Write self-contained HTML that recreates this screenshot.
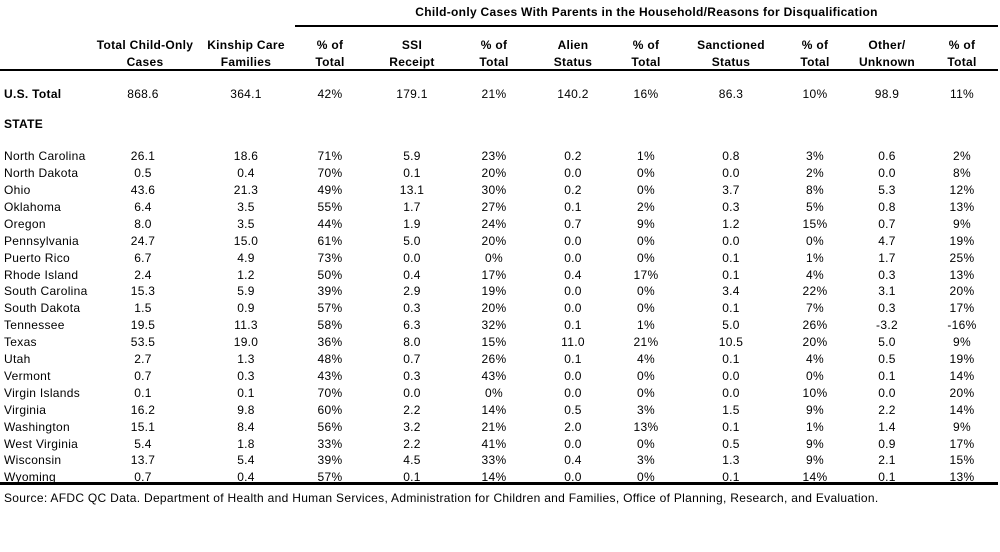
<!DOCTYPE html>
<html><head><meta charset="utf-8">
<style>
html,body{margin:0;padding:0;background:#fff;}
body{width:1000px;height:552px;position:relative;overflow:hidden;font-family:"Liberation Sans",Arial,sans-serif;font-size:12px;letter-spacing:0.3px;color:#000;}
.r{position:absolute;left:0;width:1000px;height:17px;line-height:17px;white-space:nowrap;}
.r span{position:absolute;top:0;width:100px;text-align:center;}
.r span.n{left:4px;width:auto;text-align:left;}
.b{font-weight:bold;}
.c1{left:93px}.c2{left:196px}.c3{left:280px}.c4{left:362px}.c5{left:444px}.c6{left:523px}.c7{left:596px}.c8{left:681px}.c9{left:765px}.c10{left:837px}.c11{left:912px}
.line{position:absolute;background:#000;}
.t{position:absolute;white-space:nowrap;line-height:17px;height:17px;}
</style></head><body>
<div class="t b" style="left:0;width:1293px;text-align:center;top:3.9px;">Child-only Cases With Parents in the Household/Reasons for Disqualification</div>
<div class="line" style="left:295px;top:24.5px;width:703px;height:2px;"></div>

<div class="r b" style="top:37.3px;"><span class="c1" style="left:95px">Total Child-Only</span><span class="c2">Kinship Care</span><span class="c3">% of</span><span class="c4">SSI</span><span class="c5">% of</span><span class="c6">Alien</span><span class="c7">% of</span><span class="c8">Sanctioned</span><span class="c9">% of</span><span class="c10">Other/</span><span class="c11">% of</span></div>
<div class="r b" style="top:54px;"><span class="c1" style="left:95px">Cases</span><span class="c2">Families</span><span class="c3">Total</span><span class="c4">Receipt</span><span class="c5">Total</span><span class="c6">Status</span><span class="c7">Total</span><span class="c8">Status</span><span class="c9">Total</span><span class="c10">Unknown</span><span class="c11">Total</span></div>
<div class="line" style="left:0;top:68.5px;width:998px;height:2px;"></div>

<div class="r" style="top:85.8px;"><span class="n b">U.S. Total</span><span class="c1">868.6</span><span class="c2">364.1</span><span class="c3">42%</span><span class="c4">179.1</span><span class="c5">21%</span><span class="c6">140.2</span><span class="c7">16%</span><span class="c8">86.3</span><span class="c9">10%</span><span class="c10">98.9</span><span class="c11">11%</span></div>
<div class="r" style="top:115.6px;"><span class="n b">STATE</span></div>

<div class="r" style="top:148.2px;"><span class="n">North Carolina</span><span class="c1">26.1</span><span class="c2">18.6</span><span class="c3">71%</span><span class="c4">5.9</span><span class="c5">23%</span><span class="c6">0.2</span><span class="c7">1%</span><span class="c8">0.8</span><span class="c9">3%</span><span class="c10">0.6</span><span class="c11">2%</span></div>
<div class="r" style="top:165.1px;"><span class="n">North Dakota</span><span class="c1">0.5</span><span class="c2">0.4</span><span class="c3">70%</span><span class="c4">0.1</span><span class="c5">20%</span><span class="c6">0.0</span><span class="c7">0%</span><span class="c8">0.0</span><span class="c9">2%</span><span class="c10">0.0</span><span class="c11">8%</span></div>
<div class="r" style="top:182.0px;"><span class="n">Ohio</span><span class="c1">43.6</span><span class="c2">21.3</span><span class="c3">49%</span><span class="c4">13.1</span><span class="c5">30%</span><span class="c6">0.2</span><span class="c7">0%</span><span class="c8">3.7</span><span class="c9">8%</span><span class="c10">5.3</span><span class="c11">12%</span></div>
<div class="r" style="top:198.9px;"><span class="n">Oklahoma</span><span class="c1">6.4</span><span class="c2">3.5</span><span class="c3">55%</span><span class="c4">1.7</span><span class="c5">27%</span><span class="c6">0.1</span><span class="c7">2%</span><span class="c8">0.3</span><span class="c9">5%</span><span class="c10">0.8</span><span class="c11">13%</span></div>
<div class="r" style="top:215.8px;"><span class="n">Oregon</span><span class="c1">8.0</span><span class="c2">3.5</span><span class="c3">44%</span><span class="c4">1.9</span><span class="c5">24%</span><span class="c6">0.7</span><span class="c7">9%</span><span class="c8">1.2</span><span class="c9">15%</span><span class="c10">0.7</span><span class="c11">9%</span></div>
<div class="r" style="top:232.7px;"><span class="n">Pennsylvania</span><span class="c1">24.7</span><span class="c2">15.0</span><span class="c3">61%</span><span class="c4">5.0</span><span class="c5">20%</span><span class="c6">0.0</span><span class="c7">0%</span><span class="c8">0.0</span><span class="c9">0%</span><span class="c10">4.7</span><span class="c11">19%</span></div>
<div class="r" style="top:249.6px;"><span class="n">Puerto Rico</span><span class="c1">6.7</span><span class="c2">4.9</span><span class="c3">73%</span><span class="c4">0.0</span><span class="c5">0%</span><span class="c6">0.0</span><span class="c7">0%</span><span class="c8">0.1</span><span class="c9">1%</span><span class="c10">1.7</span><span class="c11">25%</span></div>
<div class="r" style="top:266.5px;"><span class="n">Rhode Island</span><span class="c1">2.4</span><span class="c2">1.2</span><span class="c3">50%</span><span class="c4">0.4</span><span class="c5">17%</span><span class="c6">0.4</span><span class="c7">17%</span><span class="c8">0.1</span><span class="c9">4%</span><span class="c10">0.3</span><span class="c11">13%</span></div>
<div class="r" style="top:283.4px;"><span class="n">South Carolina</span><span class="c1">15.3</span><span class="c2">5.9</span><span class="c3">39%</span><span class="c4">2.9</span><span class="c5">19%</span><span class="c6">0.0</span><span class="c7">0%</span><span class="c8">3.4</span><span class="c9">22%</span><span class="c10">3.1</span><span class="c11">20%</span></div>
<div class="r" style="top:300.3px;"><span class="n">South Dakota</span><span class="c1">1.5</span><span class="c2">0.9</span><span class="c3">57%</span><span class="c4">0.3</span><span class="c5">20%</span><span class="c6">0.0</span><span class="c7">0%</span><span class="c8">0.1</span><span class="c9">7%</span><span class="c10">0.3</span><span class="c11">17%</span></div>
<div class="r" style="top:317.2px;"><span class="n">Tennessee</span><span class="c1">19.5</span><span class="c2">11.3</span><span class="c3">58%</span><span class="c4">6.3</span><span class="c5">32%</span><span class="c6">0.1</span><span class="c7">1%</span><span class="c8">5.0</span><span class="c9">26%</span><span class="c10">-3.2</span><span class="c11">-16%</span></div>
<div class="r" style="top:334.1px;"><span class="n">Texas</span><span class="c1">53.5</span><span class="c2">19.0</span><span class="c3">36%</span><span class="c4">8.0</span><span class="c5">15%</span><span class="c6">11.0</span><span class="c7">21%</span><span class="c8">10.5</span><span class="c9">20%</span><span class="c10">5.0</span><span class="c11">9%</span></div>
<div class="r" style="top:351.0px;"><span class="n">Utah</span><span class="c1">2.7</span><span class="c2">1.3</span><span class="c3">48%</span><span class="c4">0.7</span><span class="c5">26%</span><span class="c6">0.1</span><span class="c7">4%</span><span class="c8">0.1</span><span class="c9">4%</span><span class="c10">0.5</span><span class="c11">19%</span></div>
<div class="r" style="top:367.9px;"><span class="n">Vermont</span><span class="c1">0.7</span><span class="c2">0.3</span><span class="c3">43%</span><span class="c4">0.3</span><span class="c5">43%</span><span class="c6">0.0</span><span class="c7">0%</span><span class="c8">0.0</span><span class="c9">0%</span><span class="c10">0.1</span><span class="c11">14%</span></div>
<div class="r" style="top:384.8px;"><span class="n">Virgin Islands</span><span class="c1">0.1</span><span class="c2">0.1</span><span class="c3">70%</span><span class="c4">0.0</span><span class="c5">0%</span><span class="c6">0.0</span><span class="c7">0%</span><span class="c8">0.0</span><span class="c9">10%</span><span class="c10">0.0</span><span class="c11">20%</span></div>
<div class="r" style="top:401.7px;"><span class="n">Virginia</span><span class="c1">16.2</span><span class="c2">9.8</span><span class="c3">60%</span><span class="c4">2.2</span><span class="c5">14%</span><span class="c6">0.5</span><span class="c7">3%</span><span class="c8">1.5</span><span class="c9">9%</span><span class="c10">2.2</span><span class="c11">14%</span></div>
<div class="r" style="top:418.6px;"><span class="n">Washington</span><span class="c1">15.1</span><span class="c2">8.4</span><span class="c3">56%</span><span class="c4">3.2</span><span class="c5">21%</span><span class="c6">2.0</span><span class="c7">13%</span><span class="c8">0.1</span><span class="c9">1%</span><span class="c10">1.4</span><span class="c11">9%</span></div>
<div class="r" style="top:435.5px;"><span class="n">West Virginia</span><span class="c1">5.4</span><span class="c2">1.8</span><span class="c3">33%</span><span class="c4">2.2</span><span class="c5">41%</span><span class="c6">0.0</span><span class="c7">0%</span><span class="c8">0.5</span><span class="c9">9%</span><span class="c10">0.9</span><span class="c11">17%</span></div>
<div class="r" style="top:452.4px;"><span class="n">Wisconsin</span><span class="c1">13.7</span><span class="c2">5.4</span><span class="c3">39%</span><span class="c4">4.5</span><span class="c5">33%</span><span class="c6">0.4</span><span class="c7">3%</span><span class="c8">1.3</span><span class="c9">9%</span><span class="c10">2.1</span><span class="c11">15%</span></div>
<div class="r" style="top:469.3px;"><span class="n">Wyoming</span><span class="c1">0.7</span><span class="c2">0.4</span><span class="c3">57%</span><span class="c4">0.1</span><span class="c5">14%</span><span class="c6">0.0</span><span class="c7">0%</span><span class="c8">0.1</span><span class="c9">14%</span><span class="c10">0.1</span><span class="c11">13%</span></div>
<div class="line" style="left:0;top:482px;width:998px;height:3px;"></div>

<div class="t" style="left:4px;top:489.6px;">Source: AFDC QC Data. Department of Health and Human Services, Administration for Children and Families, Office of Planning, Research, and Evaluation.</div>
</body></html>
